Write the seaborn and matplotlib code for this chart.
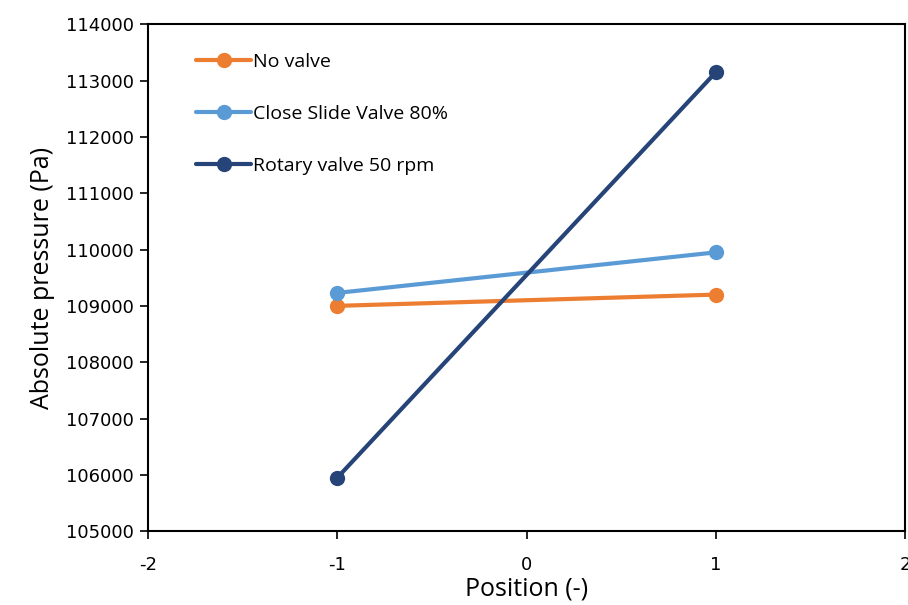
import matplotlib
matplotlib.use("Agg")
import matplotlib.pyplot as plt
import seaborn as sns
import pandas as pd

positions = [-1, 1]
no_valve = [109000, 109200]
close_slide_80 = [109230, 109950]
rotary_50rpm = [105950, 113150]
series_names = ["No valve", "Close Slide Valve 80%", "Rotary valve 50 rpm"]
palette = ["#ED7D31", "#5B9BD5", "#264478"]

rows = []
for name, vals in zip(series_names, [no_valve, close_slide_80, rotary_50rpm]):
    for p, v in zip(positions, vals):
        rows.append({"Position": p, "Pressure": v, "Series": name})
df = pd.DataFrame(rows)

sns.set_style("white")
plt.rcParams["font.family"] = ["DejaVu Sans"]
plt.rcParams["text.color"] = "#000000"
plt.rcParams["axes.labelcolor"] = "#000000"

fig = plt.figure(figsize=(9.08, 6.05), dpi=100)
ax = fig.add_axes([0.163, 0.122, 0.834, 0.838])

sns.lineplot(data=df, x="Position", y="Pressure", hue="Series",
             hue_order=series_names, palette=palette, ax=ax,
             marker="o", markersize=11, markeredgewidth=0, linewidth=3)

ax.set_xlim(-2, 2)
ax.set_ylim(105000, 114000)
ax.set_xticks([-2, -1, 0, 1, 2])
ax.set_yticks(range(105000, 114001, 1000))
ax.set_xticklabels(["-2", "-1", "0", "1", "2"])
ax.set_yticklabels([str(v) for v in range(105000, 114001, 1000)])

for s in ax.spines.values():
    s.set_color("#000000")
    s.set_linewidth(1.5)
ax.tick_params(axis="both", direction="out", length=6, width=1.2,
               labelsize=13, colors="#000000", bottom=True, left=True)
ax.tick_params(axis="x", pad=12)
ax.tick_params(axis="y", pad=4)

ax.set_xlabel("Position (-)", fontsize=18, family=["Open Sans", "DejaVu Sans"],
              color="#000000", labelpad=2)
ax.set_ylabel("Absolute pressure (Pa)", fontsize=18, family=["Open Sans", "DejaVu Sans"],
              color="#000000", labelpad=8)

leg = ax.legend(loc="upper left", bbox_to_anchor=(0.04, 0.978), frameon=False,
                labelspacing=1.75, handlelength=2.85, handletextpad=0.1,
                prop={"family": ["Open Sans", "DejaVu Sans"], "size": 14})
for t in leg.get_texts():
    t.set_color("#000000")

fig.savefig("out.png", dpi=100)
